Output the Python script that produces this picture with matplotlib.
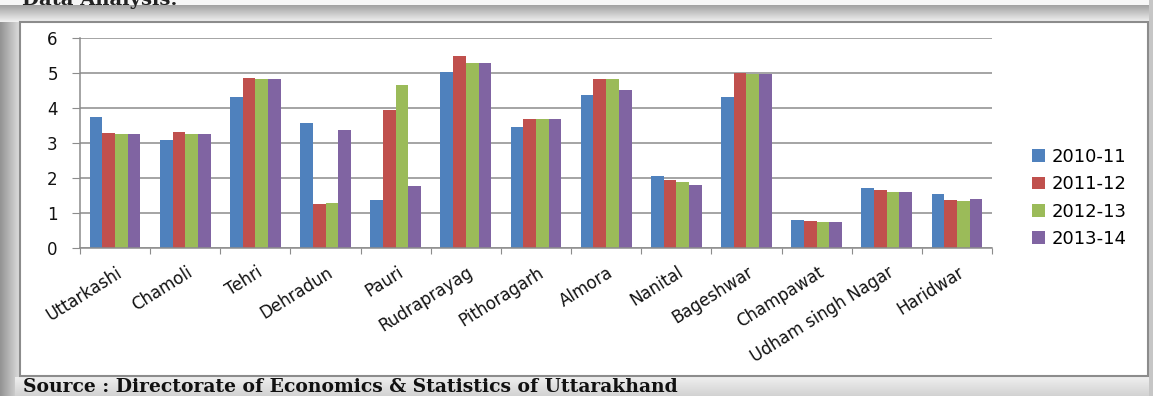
"""
District-wise bar chart, 2010-11 to 2013-14 (Uttarakhand).
"""
import numpy as np
import matplotlib
matplotlib.use('Agg')
import matplotlib.pyplot as plt
from matplotlib.patches import Rectangle
from matplotlib.transforms import ScaledTranslation

# Data
districts = ['Uttarkashi', 'Chamoli', 'Tehri', 'Dehradun', 'Pauri', 'Rudraprayag',
             'Pithoragarh', 'Almora', 'Nanital', 'Bageshwar', 'Champawat',
             'Udham singh Nagar', 'Haridwar']
years = ['2010-11', '2011-12', '2012-13', '2013-14']
v_2010_11 = [3.74, 3.10, 4.32, 3.56, 1.38, 5.04, 3.47, 4.36, 2.05, 4.32, 0.79, 1.71, 1.55]
v_2011_12 = [3.29, 3.31, 4.87, 1.26, 3.93, 5.48, 3.69, 4.84, 1.94, 4.99, 0.77, 1.65, 1.36]
v_2012_13 = [3.25, 3.27, 4.82, 1.29, 4.67, 5.30, 3.69, 4.84, 1.89, 4.96, 0.75, 1.59, 1.34]
v_2013_14 = [3.25, 3.27, 4.82, 3.37, 1.78, 5.30, 3.69, 4.52, 1.80, 4.96, 0.75, 1.59, 1.40]
yticks = [0, 1, 2, 3, 4, 5, 6]

series = [v_2010_11, v_2011_12, v_2012_13, v_2013_14]
colors = ['#4F81BD', '#C0504D', '#9BBB59', '#8064A2']

plt.rcParams['font.family'] = ['DejaVu Sans']

W, H = 1153, 396
fig = plt.figure(figsize=(W / 100, H / 100), dpi=100)

# Page background: grey shading round the chart box
xx = np.arange(W)[None, :]
yy = np.arange(H)[:, None]
base = np.full((H, W), 0.88)
left = np.clip(xx / 20.0, 0, 1)
base = base * (0.66 + 0.34 * left) + 0 * yy
top = np.clip((yy - 5) / 17.0, 0, 1)
base = np.where(yy < 5, 0.97, np.where(yy < 22, 0.64 + 0.32 * top, base))
base = np.where((yy > 376) & (xx > 14), 0.94 - 0.12 * np.clip((yy - 376) / 20.0, 0, 1), base)
base = np.where(xx > 1148, 0.78, base)
img = np.dstack([base, base, base])

bg = fig.add_axes([0, 0, 1, 1], zorder=0)
bg.imshow(img, extent=[0, W, H, 0], aspect='auto', interpolation='bilinear')
bg.set_xlim(0, W)
bg.set_ylim(H, 0)
bg.axis('off')
bg.add_patch(Rectangle((20, 22), 1128, 354, facecolor='white',
                       edgecolor='#8c8c8c', linewidth=1.5))
# heading of the page, mostly cut off by the top edge as in the source screenshot
bg.text(22, 5, 'Data Analysis:', family='DejaVu Serif', fontweight='bold',
        fontsize=14, va='baseline', ha='left', color='#222222')
bg.text(23, 387, 'Source : Directorate of Economics & Statistics of Uttarakhand',
        family='DejaVu Serif', fontweight='bold', fontsize=13.5,
        va='center', ha='left', color='#111111')

# Chart area
ax = fig.add_axes([80 / W, 1 - 248 / H, 912 / W, 210 / H], zorder=1)
ax.patch.set_alpha(0)
x = np.arange(len(districts))
bw = 0.181
for i, (vals, c) in enumerate(zip(series, colors)):
    ax.bar(x + (i - 1.5) * bw, vals, width=bw, color=c, label=years[i], zorder=2)

ax.set_xlim(-0.5, len(districts) - 0.5)
ax.set_ylim(0, 6)
ax.set_yticks(yticks)
ax.yaxis.grid(True, color='#8c8c8c', linewidth=1.1)
ax.set_axisbelow(True)
for s in ['top', 'right']:
    ax.spines[s].set_visible(False)
for s in ['left', 'bottom']:
    ax.spines[s].set_color('#8c8c8c')
    ax.spines[s].set_linewidth(1.1)

ax.tick_params(axis='y', length=6, color='#8c8c8c', pad=10, labelsize=12,
               labelcolor='#111111')
ax.set_xticks(np.arange(len(districts) + 1) - 0.5)
ax.set_xticklabels([])
ax.tick_params(axis='x', which='major', length=4, color='#8c8c8c')
ax.set_xticks(x, minor=True)
ax.set_xticklabels(districts, minor=True, rotation=32, ha='right', va='top',
                   rotation_mode='anchor', fontsize=12, color='#111111')
ax.tick_params(axis='x', which='minor', length=0, pad=11)
offset = ScaledTranslation(1 / 100, 0, fig.dpi_scale_trans)
for lbl in ax.get_xticklabels(minor=True):
    lbl.set_transform(lbl.get_transform() + offset)

handles, labels = ax.get_legend_handles_labels()
fig.legend(handles, labels, loc='center left', bbox_to_anchor=(1016 / W, 1 - 198 / H),
           frameon=False, fontsize=13, handlelength=0.7, handleheight=0.7,
           labelspacing=0.52, handletextpad=0.35)

fig.savefig('out.png', dpi=100)
